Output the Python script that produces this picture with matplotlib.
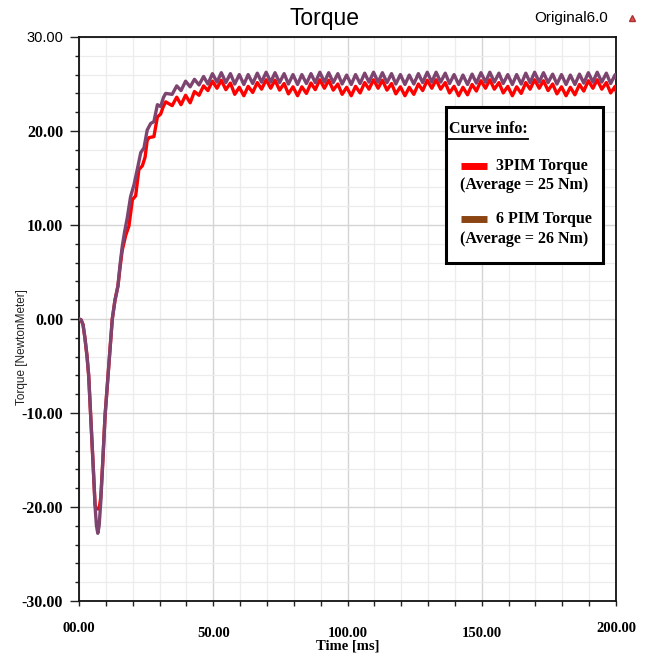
import numpy as np
import matplotlib
matplotlib.use("Agg")
import matplotlib.pyplot as plt
from matplotlib.lines import Line2D
from matplotlib.patches import Rectangle
from matplotlib.ticker import MultipleLocator, FixedLocator
import matplotlib.transforms as mtransforms

# ---- data (time in ms, torque in Nm) ----
t_purple_start = [0.0, 0.8, 1.5, 2.2, 3.0, 3.6, 4.3, 5.3, 6.0, 6.5, 7.0, 7.5, 8.1, 8.8,
                  9.7, 10.6, 11.5, 12.4, 13.4, 14.5, 15.3, 16.1, 17.0, 18.0, 19.2, 20.5,
                  21.7, 23.0, 24.2, 25.4, 26.7, 27.9, 29.2, 30.4, 31.5, 32.3]
v_purple_start = [0.0, -0.1, -0.6, -2.0, -4.0, -6.0, -10.0, -15.7, -20.0, -22.0, -22.8,
                  -22.0, -19.5, -15.5, -10.3, -6.8, -3.4, 0.0, 2.0, 3.5, 5.8, 7.7, 9.3,
                  10.8, 13.0, 14.3, 15.9, 17.7, 18.2, 20.1, 20.8, 21.0, 22.8, 22.6, 23.6, 24.0]

t_red_start = [0.0, 0.8, 1.5, 2.2, 3.0, 3.6, 4.3, 5.3, 6.0, 6.5, 7.5, 8.1, 8.8, 9.7,
               10.6, 11.5, 12.4, 13.4, 14.5, 15.3, 16.1, 17.4, 18.6, 19.9, 21.1, 22.3,
               23.6, 24.6, 25.4, 26.1, 27.9, 29.2, 30.4, 31.4, 32.3]
v_red_start = [0.0, -0.1, -0.6, -2.0, -4.0, -6.0, -10.0, -15.7, -19.8, -20.2, -20.2,
               -19.0, -15.5, -10.3, -6.8, -3.4, 0.0, 2.0, 3.5, 5.5, 7.3, 8.9, 9.9, 12.7,
               13.1, 15.9, 16.3, 17.2, 19.0, 19.3, 19.4, 21.5, 21.8, 22.6, 23.1]

# steady-state ripple, peaks and troughs
t_ripple = [34.7, 36.4, 38.0, 39.7, 41.4, 43.0, 44.7, 46.4, 48.0, 49.7,
            51.4, 53.0, 54.7, 56.4, 58.0, 59.7, 61.4, 63.0, 64.7, 66.4,
            68.0, 69.7, 71.4, 73.0, 74.7, 76.4, 78.0, 79.7, 81.4, 83.0,
            84.7, 86.4, 88.0, 89.7, 91.4, 93.0, 94.7, 96.4, 98.0, 99.7,
            101.4, 103.0, 104.7, 106.4, 108.0, 109.7, 111.4, 113.0, 114.7, 116.4,
            118.0, 119.7, 121.4, 123.0, 124.7, 126.4, 128.0, 129.7, 131.4, 133.0,
            134.7, 136.4, 138.0, 139.7, 141.4, 143.0, 144.7, 146.4, 148.0, 149.7,
            151.4, 153.0, 154.7, 156.4, 158.0, 159.7, 161.4, 163.0, 164.7, 166.4,
            168.0, 169.7, 171.4, 173.0, 174.7, 176.4, 178.0, 179.7, 181.4, 183.0,
            184.7, 186.4, 188.0, 189.7, 191.4, 193.0, 194.7, 196.4, 198.0, 199.7, 200.0]

v_red_ripple = [22.7, 23.6, 22.8, 23.8, 23.0, 24.2, 23.8, 24.8, 24.3, 25.3,
                24.55, 25.4, 24.4, 25.1, 23.9, 24.65, 23.75, 24.75, 24.1, 25.15,
                24.45, 25.45, 24.55, 25.4, 24.35, 25.05, 23.95, 24.7, 23.75, 24.7,
                24.0, 25.1, 24.4, 25.45, 24.55, 25.4, 24.35, 25.0, 23.9, 24.65,
                23.75, 24.75, 24.05, 25.15, 24.45, 25.45, 24.55, 25.4, 24.35, 25.05,
                23.95, 24.7, 23.75, 24.65, 23.9, 25.0, 24.3, 25.4, 24.55, 25.45,
                24.45, 25.15, 24.05, 24.75, 23.75, 24.65, 23.85, 24.95, 24.25, 25.35,
                24.55, 25.45, 24.45, 25.15, 24.05, 24.75, 23.75, 24.7, 24.0, 25.15,
                24.45, 25.45, 24.55, 25.35, 24.3, 25.0, 23.95, 24.7, 23.75, 24.65,
                23.85, 24.95, 24.25, 25.35, 24.55, 25.45, 24.45, 25.15, 24.05, 24.75, 24.3]

v_purple_ripple = [23.9, 24.8, 24.3, 25.3, 24.7, 25.5, 24.9, 25.8, 25.0, 26.1,
                   25.2, 26.2, 25.15, 26.1, 25.0, 26.0, 24.95, 26.0, 25.05, 26.15,
                   25.2, 26.25, 25.2, 26.2, 25.15, 26.1, 25.0, 26.0, 24.95, 26.0,
                   25.05, 26.1, 25.15, 26.25, 25.2, 26.2, 25.15, 26.1, 25.0, 25.95,
                   24.95, 26.0, 25.05, 26.15, 25.2, 26.25, 25.2, 26.2, 25.15, 26.1,
                   25.0, 26.0, 24.95, 25.95, 25.0, 26.1, 25.15, 26.25, 25.2, 26.25,
                   25.2, 26.15, 25.05, 26.0, 24.95, 25.95, 24.95, 26.05, 25.1, 26.2,
                   25.2, 26.25, 25.2, 26.15, 25.05, 26.0, 24.95, 26.0, 25.0, 26.15,
                   25.15, 26.25, 25.2, 26.2, 25.15, 26.05, 25.0, 26.0, 24.95, 25.95,
                   24.95, 26.05, 25.1, 26.2, 25.2, 26.25, 25.2, 26.15, 25.05, 26.0, 25.7]

y_major = [-30, -20, -10, 0, 10, 20, 30]
y_labels = ["-30.00", "-20.00", "-10.00", "0.00", "10.00", "20.00", "30.00"]
x_major = [0, 50, 100, 150, 200]
x_labels = ["00.00", "50.00", "100.00", "150.00", "200.00"]

t_red = t_red_start + t_ripple
v_red = v_red_start + v_red_ripple
t_purple = t_purple_start + t_ripple
v_purple = v_purple_start + v_purple_ripple

W, H = 654, 657


def px(x, y):
    return x / W, 1 - y / H


fig = plt.figure(figsize=(W / 100, H / 100), dpi=100)
ax = fig.add_axes([79 / W, 1 - 601 / H, (616 - 79) / W, (601 - 37) / H])

ax.plot(t_red, v_red, color="#ff0000", lw=2.4, solid_joinstyle="round", zorder=3)
ax.plot(t_purple, v_purple, color="#7d4470", lw=2.4, solid_joinstyle="round", zorder=4)

ax.set_xlim(0, 200)
ax.set_ylim(-30, 30)

ax.xaxis.set_major_locator(FixedLocator(x_major))
ax.xaxis.set_minor_locator(MultipleLocator(10))
ax.yaxis.set_major_locator(FixedLocator(y_major))
ax.yaxis.set_minor_locator(MultipleLocator(2))

ax.grid(which="minor", color="#ececec", lw=0.9, zorder=0)
ax.grid(which="major", color="#d4d4d4", lw=1.0, zorder=0)
ax.set_axisbelow(True)

for s in ax.spines.values():
    s.set_color("#111111")
    s.set_linewidth(1.3)

ax.tick_params(axis="y", which="major", length=6.5, width=1.0, pad=5, color="#222222")
ax.tick_params(axis="y", which="minor", length=3, width=1.0, color="#222222")
ax.tick_params(axis="x", which="both", length=3.5, width=1.0, color="#222222", labelbottom=False)

ax.set_yticklabels(y_labels, fontfamily="Liberation Serif", fontweight="bold", fontsize=11.5)
top = ax.get_yticklabels()[-1]
top.set_fontfamily("Liberation Sans")
top.set_fontweight("normal")
top.set_fontsize(10.5)

trans = mtransforms.blended_transform_factory(ax.transData, ax.transAxes)
for xv, lab in zip(x_major, x_labels):
    yy = -0.048 if xv in (0, 200) else -0.057
    ax.text(xv, yy, lab, transform=trans, ha="center", va="center",
            fontfamily="Liberation Serif", fontweight="bold", fontsize=10.5)
ax.text(100, -0.079, "Time [ms]", transform=trans, ha="center", va="center",
        fontfamily="Liberation Serif", fontweight="bold", fontsize=10.5)

fig.text(*px(22, 347), "Torque [NewtonMeter]", rotation=90, ha="center", va="center",
         fontfamily="Liberation Sans", fontsize=8.5, color="#222222")
fig.text(*px(325, 18), "Torque", ha="center", va="center",
         fontfamily="Liberation Sans", fontsize=16.5)
fig.text(*px(571, 18), "Original6.0", ha="center", va="center",
         fontfamily="Liberation Sans", fontsize=11)
fig.add_artist(Line2D([632 / W], [1 - 18 / H], marker="^", markersize=5,
                      color="#e05050", markeredgecolor="#b03030", lw=0,
                      transform=fig.transFigure))

# curve info box
x0, y0 = px(446, 263)
x1, y1 = px(603, 107)
fig.add_artist(Rectangle((x0, y0), x1 - x0, y1 - y0, transform=fig.transFigure,
                         facecolor="white", edgecolor="black", lw=2.2, zorder=5))
tf = dict(fontfamily="Liberation Serif", fontweight="bold", fontsize=11.5, zorder=6)
fig.text(*px(449, 129), "Curve info:", ha="left", va="center", **tf)
ux0, uy = px(449, 139)
ux1, _ = px(528, 139)
fig.add_artist(Line2D([ux0, ux1], [uy, uy], color="black", lw=1.3,
                      transform=fig.transFigure, zorder=6))

sw = dict(lw=5, solid_capstyle="butt", transform=fig.transFigure, zorder=6)
a, b = px(461, 166)
c, _ = px(487, 166)
fig.add_artist(Line2D([a, c], [b, b], color="#ff0000", **sw))
fig.text(*px(496, 166), "3PIM Torque", ha="left", va="center", **tf)
fig.text(*px(524, 185), "(Average = 25 Nm)", ha="center", va="center", **tf)
a, b = px(461, 219)
fig.add_artist(Line2D([a, c], [b, b], color="#8b4513", **sw))
fig.text(*px(496, 219), "6 PIM Torque", ha="left", va="center", **tf)
fig.text(*px(524, 239), "(Average = 26 Nm)", ha="center", va="center", **tf)

fig.savefig("out.png", dpi=100)
